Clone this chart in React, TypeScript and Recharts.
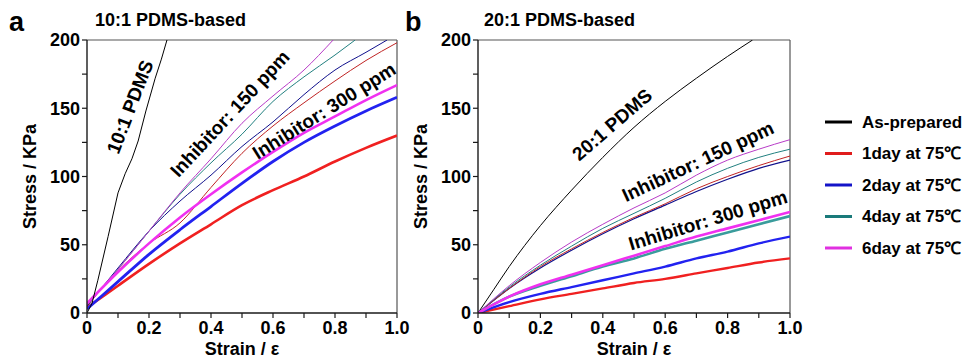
import React from 'react';
import { LineChart, Line, XAxis, YAxis, ReferenceLine, ReferenceDot, Legend } from 'recharts';

const FONT = '"Liberation Sans", Arial, Helvetica, sans-serif';

// ---------- shared strain grid ----------
const strainGrid = [0, 0.1, 0.2, 0.3, 0.4, 0.5, 0.6, 0.7, 0.8, 0.9, 1.0];

// ---------- panel a : 10:1 PDMS-based ----------
const a_asPrepStrain = [0, 0.016, 0.035, 0.068, 0.1, 0.123, 0.145, 0.165, 0.19, 0.22, 0.24, 0.258];
const a_asPrepStress = [0, 7, 24, 56, 88, 102, 113, 126, 148, 172, 186, 200];

// Inhibitor 150 ppm (thin)
const a150_day6Strain = [0, 0.1, 0.2, 0.3, 0.4, 0.5, 0.6, 0.7, 0.794];
const a150_day6Stress = [6, 32, 60, 88, 113, 139, 159, 178, 200];
const a150_day4Strain = [0, 0.1, 0.2, 0.3, 0.4, 0.5, 0.6, 0.7, 0.8, 0.865];
const a150_day4Stress = [6, 32, 60, 87, 110, 131, 155, 173, 189, 200];
const a150_day2Strain = [0, 0.1, 0.2, 0.3, 0.4, 0.5, 0.6, 0.7, 0.8, 0.9, 0.968];
const a150_day2Stress = [5, 33, 60, 82, 101, 122, 140, 160, 178, 191, 200];
const a150_day1Stress = [5, 31, 51, 66, 92, 117, 137, 154, 170, 185, 198];

// Inhibitor 300 ppm (thick)
const a300_day6Stress = [7, 30, 51, 70, 87, 103, 118, 132, 144, 156, 167];
const a300_day2Stress = [3, 23, 43, 61, 78, 95, 111, 125, 137, 148, 158];
const a300_day1Stress = [4, 20, 36, 51, 65, 79, 90, 100, 111, 121, 130];

// ---------- panel b : 20:1 PDMS-based ----------
const b_asPrepStrain = [0, 0.05, 0.1, 0.2, 0.3, 0.4, 0.5, 0.6, 0.7, 0.8, 0.88];
const b_asPrepStress = [0, 17, 34, 64, 90, 114, 136, 155, 172, 188, 200];

const b150_day6Stress = [0, 20, 37, 52, 65, 77, 88, 101, 112, 120, 127];
const b150_day4Stress = [0, 19, 35, 49, 62, 73, 84, 96, 106, 114, 120];
const b150_day1Stress = [0, 18, 34, 47, 59, 70, 80, 91, 100, 108, 115];
const b150_day2Stress = [0, 18, 33, 46, 58, 69, 79, 89, 98, 106, 112];

const b300_day6Stress = [0, 12, 21, 28, 35, 42, 49, 56, 62, 68, 74];
const b300_day4Stress = [0, 12, 20, 27, 34, 40, 47, 53, 59, 65, 71];
const b300_day2Stress = [0, 8, 14, 19, 24, 29, 34, 40, 45, 51, 56];
const b300_day1Stress = [0, 5, 10, 14, 18, 22, 25, 29, 33, 37, 40];

// ---------- axes / labels ----------
const xTicks = [0, 0.1, 0.2, 0.3, 0.4, 0.5, 0.6, 0.7, 0.8, 0.9, 1.0];
const yTicks = [0, 25, 50, 75, 100, 125, 150, 175, 200];
const legendLabels = ['As-prepared', '1day at 75\u2103', '2day at 75\u2103', '4day at 75\u2103', '6day at 75\u2103'];
const legendColors = ['#000000', '#e01c1c', '#1414c8', '#1a7a7a', '#e030e0'];

const annotA = [
  { text: '10:1 PDMS', x: 0.139, y: 151, angle: -69 },
  { text: 'Inhibitor: 150 ppm', x: 0.461, y: 146, angle: -47 },
  { text: 'Inhibitor: 300 ppm', x: 0.765, y: 148, angle: -32 },
];
const annotB = [
  { text: '20:1 PDMS', x: 0.43, y: 138, angle: -41 },
  { text: 'Inhibitor: 150 ppm', x: 0.705, y: 111, angle: -25 },
  { text: 'Inhibitor: 300 ppm', x: 0.737, y: 68, angle: -17 },
];

const toPts = (strain: number[], stress: number[]) => strain.map((x, i) => ({ x, y: stress[i] }));

type S = { key: string; strain: number[]; stress: number[]; color: string; w: number; type?: string };

const seriesA: S[] = [
  { key: 'a150d1', strain: strainGrid, stress: a150_day1Stress, color: '#c02424', w: 1 },
  { key: 'a150d2', strain: a150_day2Strain, stress: a150_day2Stress, color: '#10108c', w: 1 },
  { key: 'a150d4', strain: a150_day4Strain, stress: a150_day4Stress, color: '#228080', w: 1 },
  { key: 'a150d6', strain: a150_day6Strain, stress: a150_day6Stress, color: '#b83cc8', w: 1 },
  { key: 'a300d1', strain: strainGrid, stress: a300_day1Stress, color: '#f02020', w: 2.6 },
  { key: 'a300d2', strain: strainGrid, stress: a300_day2Stress, color: '#2222f0', w: 2.8 },
  { key: 'a300d6', strain: strainGrid, stress: a300_day6Stress, color: '#f030f0', w: 2.6 },
  { key: 'aAs', strain: a_asPrepStrain, stress: a_asPrepStress, color: '#000000', w: 1, type: 'linear' },
];

const seriesB: S[] = [
  { key: 'bAs', strain: b_asPrepStrain, stress: b_asPrepStress, color: '#000000', w: 1 },
  { key: 'b150d2', strain: strainGrid, stress: b150_day2Stress, color: '#10108c', w: 1.2 },
  { key: 'b150d1', strain: strainGrid, stress: b150_day1Stress, color: '#c02424', w: 1 },
  { key: 'b150d4', strain: strainGrid, stress: b150_day4Stress, color: '#228080', w: 1 },
  { key: 'b150d6', strain: strainGrid, stress: b150_day6Stress, color: '#b83cc8', w: 1 },
  { key: 'b300d1', strain: strainGrid, stress: b300_day1Stress, color: '#f02020', w: 2.4 },
  { key: 'b300d2', strain: strainGrid, stress: b300_day2Stress, color: '#2222f0', w: 2.4 },
  { key: 'b300d4', strain: strainGrid, stress: b300_day4Stress, color: '#3a9c9c', w: 2.6 },
  { key: 'b300d6', strain: strainGrid, stress: b300_day6Stress, color: '#f030f0', w: 2.6 },
];

const xFmt = (v: number) => {
  const k = Math.round(v * 10);
  if (k % 2 !== 0) return '';
  return k === 0 ? '0' : (k / 10).toFixed(1);
};
const yFmt = (v: number) => (v % 50 === 0 ? String(v) : '');

const tickStyle = { fontFamily: FONT, fontSize: 18, fontWeight: 700, fill: '#000' };

const RotText = (props: any) => {
  const { viewBox, text, angle } = props;
  const cx = viewBox.x + viewBox.width / 2;
  const cy = viewBox.y + viewBox.height / 2;
  return (
    <text x={cx} y={cy} transform={`rotate(${angle} ${cx} ${cy})`} textAnchor="middle" dominantBaseline="central"
      style={{ fontFamily: FONT, fontSize: 19, fontWeight: 700, fill: '#000' }}>{text}</text>
  );
};

const YTitle = (props: any) => {
  const { viewBox } = props;
  const x = viewBox.x + 3;
  const y = viewBox.y + viewBox.height / 2;
  return (
    <text x={x} y={y} transform={`rotate(-90 ${x} ${y})`} textAnchor="middle" dominantBaseline="central"
      style={{ fontFamily: FONT, fontSize: 18, fontWeight: 700, fill: '#000' }}>Stress / KPa</text>
  );
};
const XTitle = (props: any) => {
  const { viewBox } = props;
  const x = viewBox.x + viewBox.width / 2;
  const y = viewBox.y + 36;
  return (
    <text x={x} y={y} textAnchor="middle" dominantBaseline="central"
      style={{ fontFamily: FONT, fontSize: 18, fontWeight: 700, fill: '#000' }}>Strain / ε</text>
  );
};

const LegendBox = () => (
  <svg width={160} height={170} style={{ overflow: 'visible' }}>
    {legendLabels.map((lab, i) => {
      const y = 17 + i * 31.5;
      return (
        <g key={lab}>
          <line x1={0} x2={27} y1={y} y2={y} stroke={legendColors[i]} strokeWidth={3} />
          <text x={37} y={y} dominantBaseline="central" style={{ fontFamily: FONT, fontSize: 17, fontWeight: 700, fill: '#000' }}>{lab}</text>
        </g>
      );
    })}
  </svg>
);

const Panel = ({ series, annots, width, margin, legend }: any) => (
  <LineChart width={width} height={363} margin={margin}>
    <XAxis dataKey="x" type="number" domain={[0, 1]} ticks={xTicks} tickFormatter={xFmt} allowDataOverflow
      interval={0} tickSize={5} tickMargin={3} height={30} tick={tickStyle}
      axisLine={{ stroke: '#1a1a1a', strokeWidth: 1.4 }} tickLine={{ stroke: '#1a1a1a', strokeWidth: 1.2 }}
      label={{ content: (p: any) => <XTitle {...p} /> }} />
    <YAxis type="number" domain={[0, 200]} ticks={yTicks} tickFormatter={yFmt} allowDataOverflow
      interval={0} tickSize={5} tickMargin={2} width={60} tick={tickStyle}
      axisLine={{ stroke: '#1a1a1a', strokeWidth: 1.4 }} tickLine={{ stroke: '#1a1a1a', strokeWidth: 1.2 }}
      label={{ content: (p: any) => <YTitle {...p} /> }} />
    <ReferenceLine y={200} stroke="#555" strokeWidth={1.2} ifOverflow="visible" />
    <ReferenceLine x={1} stroke="#555" strokeWidth={1.2} ifOverflow="visible" />
    {series.map((s: S) => (
      <Line key={s.key} data={toPts(s.strain, s.stress)} dataKey="y" type={(s.type as any) || 'monotone'}
        stroke={s.color} strokeWidth={s.w} dot={false} activeDot={false} isAnimationActive={false} />
    ))}
    {annots.map((a: any) => (
      <ReferenceDot key={a.text} x={a.x} y={a.y} r={1} fill="none" stroke="none"
        label={(p: any) => <RotText {...p} text={a.text} angle={a.angle} />} />
    ))}
    {legend ? (
      <Legend layout="vertical" align="center" verticalAlign="middle" content={() => <LegendBox />}
        wrapperStyle={{ position: 'absolute', left: 435, top: 105, width: 160, height: 170 }} />
    ) : null}
  </LineChart>
);

export default function App() {
  return (
    <div style={{ position: 'absolute', left: 0, top: 0, width: 976, height: 363, background: '#fff', overflow: 'hidden' }}>
      <div style={{ position: 'absolute', left: 0, top: 0 }}>
        <Panel series={seriesA} annots={annotA} width={420} margin={{ top: 40, right: 23, bottom: 20, left: 27 }} />
      </div>
      <div style={{ position: 'absolute', left: 390, top: 0 }}>
        <Panel series={seriesB} annots={annotB} width={586} margin={{ top: 40, right: 186, bottom: 20, left: 28 }} legend />
      </div>
      <svg width={976} height={40} style={{ position: 'absolute', left: 0, top: 0, pointerEvents: 'none' }}>
        <text x={9} y={31} style={{ fontFamily: FONT, fontSize: 27, fontWeight: 700, fill: '#000' }}>a</text>
        <text x={95} y={26} style={{ fontFamily: FONT, fontSize: 18, fontWeight: 700, fill: '#000' }}>10:1 PDMS-based</text>
        <text x={405} y={31} style={{ fontFamily: FONT, fontSize: 27, fontWeight: 700, fill: '#000' }}>b</text>
        <text x={484} y={26} style={{ fontFamily: FONT, fontSize: 18, fontWeight: 700, fill: '#000' }}>20:1 PDMS-based</text>
      </svg>
    </div>
  );
}
